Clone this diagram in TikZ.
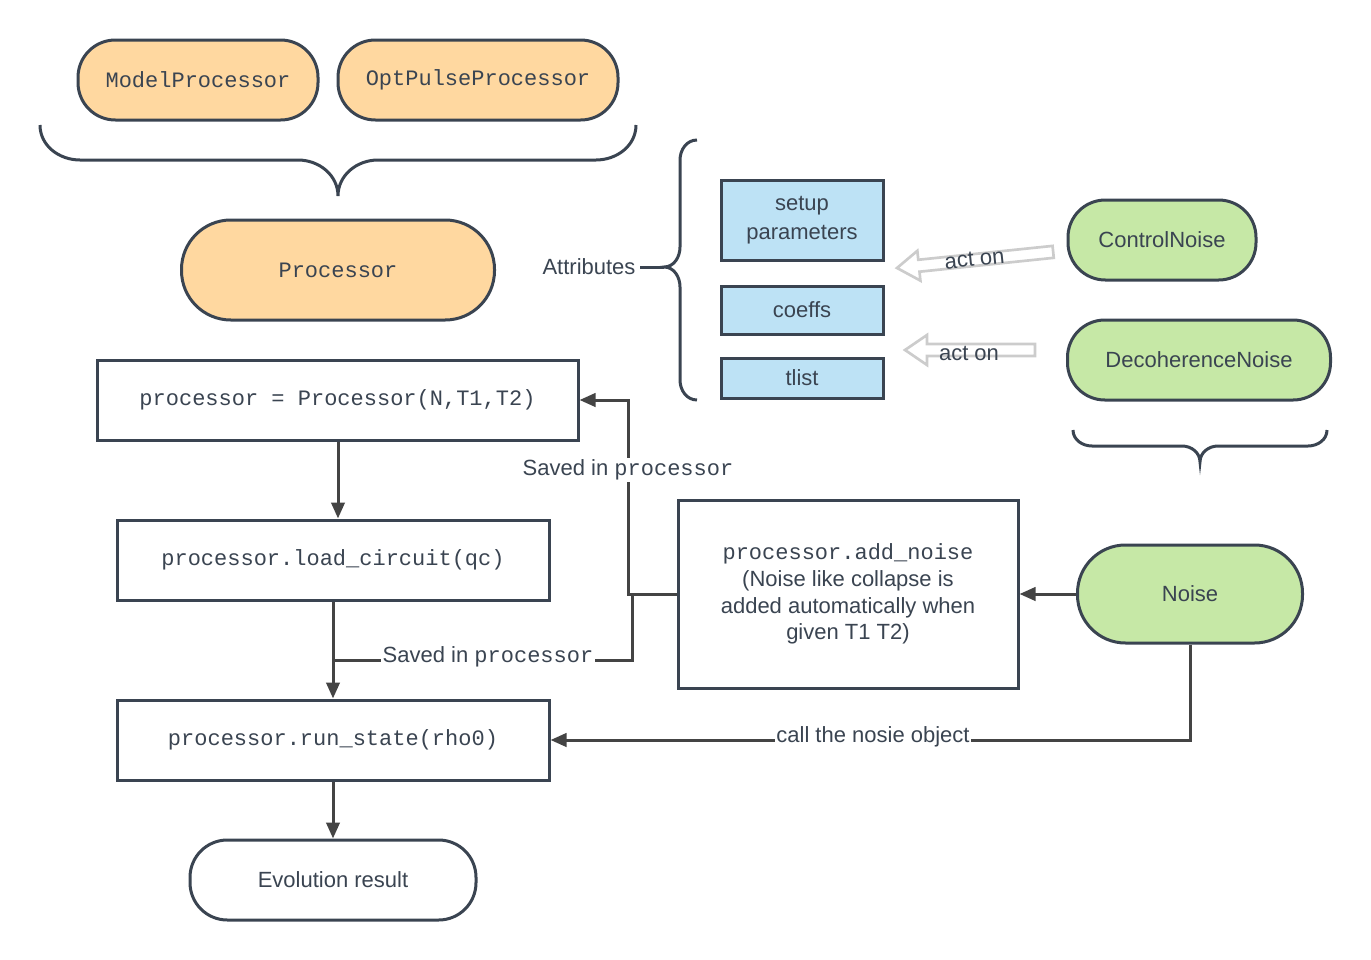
\documentclass[tikz,border=0pt]{standalone}
\usepackage{fontspec}
\setmainfont{Liberation Sans}
\setmonofont{Liberation Mono}
\usetikzlibrary{arrows.meta}
\definecolor{ln}{HTML}{3A4451}
\definecolor{orf}{HTML}{FFD8A0}
\definecolor{blf}{HTML}{BDE2F5}
\definecolor{grf}{HTML}{C6E8A6}
\definecolor{ar}{HTML}{444444}
\begin{document}
\begin{tikzpicture}[x=0.75pt,y=-0.75pt,
  every node/.style={font=\fontsize{16.5pt}{20pt}\selectfont, text=ln},
  sz/.style 2 args={minimum width=#1*0.75pt, minimum height=#2*0.75pt, inner sep=0pt},
  pill/.style={draw=ln, line width=2.25pt, rounded corners=28pt},
  rbox/.style={draw=ln, line width=2.25pt, fill=white, align=center},
  attr/.style={draw=ln, line width=2.25pt, fill=blf, align=center},
  conn/.style={draw=ar, line width=2.25pt},
  arr/.style={conn, -{Triangle[length=12pt,width=10pt]}},
  brace/.style={draw=ln, line width=2.25pt},
  hollow/.style={draw=gray!40, fill=white, line width=2pt},
  tt/.style={font=\ttfamily\fontsize{16.5pt}{20pt}\selectfont}]
\useasboundingbox (0,0) rectangle (1371,960);
\node[pill, fill=orf, sz={240}{80}, tt] (mp) at (198,80) {ModelProcessor};
\node[pill, fill=orf, sz={280}{80}, tt] (op) at (478,80) {OptPulseProcessor};
\draw[brace] (40,125) to[out=-90,in=180] (80,160) -- (298,160) to[out=0,in=90] (338,196) to[out=90,in=180] (378,160) -- (596,160) to[out=0,in=-90] (636,125);
\node[pill, fill=orf, sz={313}{100}, rounded corners=37pt, tt] (proc) at (338,270) {Processor};
\node (attrl) at (589,267) {Attributes};
\draw[brace] (697,140) to[out=180,in=90] (680,160) -- (680,247) to[out=-90,in=0] (664,267) to[out=0,in=90] (680,287) -- (680,380) to[out=-90,in=180] (697,400);
\draw[brace] (attrl.east) -- (664,267);
\node[attr, sz={162}{80}] (setup) at (802,220) {setup\\[2pt]parameters};
\node[attr, sz={162}{48}] (coeffs) at (802,310) {coeffs};
\node[attr, sz={162}{40}] (tlist) at (802,378) {tlist};
\node[pill, fill=grf, sz={188}{80}] (cn) at (1162,240) {ControlNoise};
\node[pill, fill=grf, sz={263}{80}] (dn) at (1199,360) {DecoherenceNoise};
\draw[brace] (1073,430) to[out=-90,in=180] (1092,446) -- (1182,446) to[out=0,in=90] (1200,462) to[out=90,in=180] (1218,446) -- (1308,446) to[out=0,in=-90] (1327,430);
\begin{scope}[shift={(897,268)}, rotate=5.9]
\draw[hollow] (0,0) -- (22,-15) -- (22,-6) -- (157,-6) -- (157,6) -- (22,6) -- (22,15) -- cycle;
\node[rotate=5.9] (act1) at (78,-1) {act on};
\end{scope}
\begin{scope}[shift={(905,350)}]
\draw[hollow] (0,0) -- (22,-15) -- (22,-6) -- (130,-6) -- (130,6) -- (22,6) -- (22,15) -- cycle;
\node (act2) at (64,3) {act on};
\end{scope}
\node[rbox, sz={481}{80}, tt] (p1) at (337.5,400) {processor = Processor(N,T1,T2)};
\node[rbox, sz={432}{80}, tt] (p2) at (333,560) {processor.load\_circuit(qc)};
\node[rbox, sz={432}{80}, tt] (p3) at (333,740) {processor.run\_state(rho0)};
\node[pill, sz={286}{80}, fill=white] (ev) at (333,880) {Evolution result};
\node[rbox, sz={340}{188}] (an) at (848,594) {{\ttfamily processor.add\_noise}\\(Noise like collapse is\\added automatically when\\given T1 T2)};
\node[pill, fill=grf, sz={225}{98}, rounded corners=36pt] (noise) at (1190,594) {Noise};
\draw[arr] (p1.south -| 338,0) -- (p2.north -| 338,0);
\draw[arr] (p2.south -| 333,0) -- (p3.north);
\draw[arr] (p3.south) -- (ev.north);
\draw[arr] (an.west) -- (628,594) -- (628,400) -- (p1.east);
\node[fill=white, inner sep=1pt] at (628,470) {Saved in {\ttfamily processor}};
\draw[conn] (632,594) -- (632,660) -- (333,660);
\node[fill=white, inner sep=1pt] at (488,657) {Saved in {\ttfamily processor}};
\draw[arr] (noise.west) -- (an.east);
\draw[arr] (noise.south) -- (1190,740) -- (p3.east);
\node[fill=white, inner sep=1pt] at (873,737) {call the nosie object};
\end{tikzpicture}
\end{document}
